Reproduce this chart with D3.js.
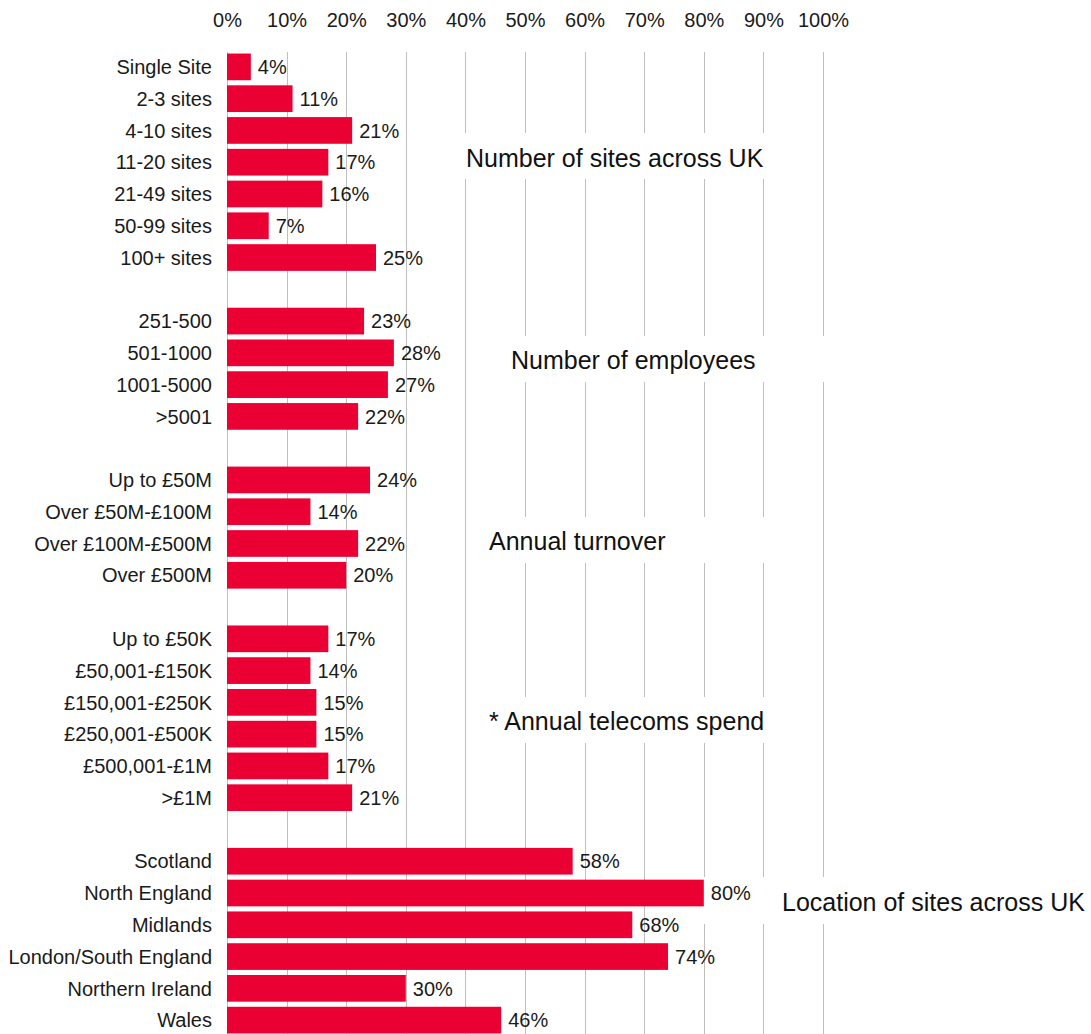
<!DOCTYPE html>
<html>
<head>
<meta charset="utf-8">
<script src="https://cdn.jsdelivr.net/npm/d3@7"></script>
<style>
  html, body { margin: 0; padding: 0; background: #ffffff; }
  svg { display: block; font-family: "Liberation Sans", Arial, sans-serif; }
</style>
</head>
<body>
<svg id="chart" width="1091" height="1034"></svg>
<script>
// Survey breakdown: share of respondents per category, grouped by section
const sitesCategories = ["Single Site", "2-3 sites", "4-10 sites", "11-20 sites", "21-49 sites", "50-99 sites", "100+ sites"];
const sitesValues = [4, 11, 21, 17, 16, 7, 25];

const employeeCategories = ["251-500", "501-1000", "1001-5000", ">5001"];
const employeeValues = [23, 28, 27, 22];

const turnoverCategories = ["Up to £50M", "Over £50M-£100M", "Over £100M-£500M", "Over £500M"];
const turnoverValues = [24, 14, 22, 20];

const telecomsCategories = ["Up to £50K", "£50,001-£150K", "£150,001-£250K", "£250,001-£500K", "£500,001-£1M", ">£1M"];
const telecomsValues = [17, 14, 15, 15, 17, 21];

const locationCategories = ["Scotland", "North England", "Midlands", "London/South England", "Northern Ireland", "Wales"];
const locationValues = [58, 80, 68, 74, 30, 46];

const sectionTitles = ["Number of sites across UK", "Number of employees", "Annual turnover", "* Annual telecoms spend", "Location of sites across UK"];
const tickValues = [0, 10, 20, 30, 40, 50, 60, 70, 80, 90, 100];

// ---- layout ----
const W = 1091, H = 1034;
const x0 = 227, x1 = 823;
const yTop = 51, yBottom = 1036;
const gridTop = 52;
const barColor = "#EB0033";
const gridColor = "#BFBFBF";
const smallFont = 20;
const titleFont = 25;

// Title placement and the white box that sits behind each title
const titleLayout = [
  { x: 466, y: 158, box: [458, 133, 795, 179] },
  { x: 511, y: 360, box: [478, 336, 840, 382] },
  { x: 489, y: 541, box: [478, 517, 795, 563] },
  { x: 489, y: 721, box: [478, 697, 795, 743] },
  { x: 782, y: 902, box: [698, 877, 1091, 924] }
];

// Build the row list: groups separated by one blank row
const groups = [
  [sitesCategories, sitesValues],
  [employeeCategories, employeeValues],
  [turnoverCategories, turnoverValues],
  [telecomsCategories, telecomsValues],
  [locationCategories, locationValues]
];
const rows = [];
groups.forEach(([cats, vals], gi) => {
  if (gi > 0) rows.push({ key: "gap" + gi, label: "", value: null });
  cats.forEach((c, i) => rows.push({ key: "g" + gi + "-" + i, label: c, value: vals[i] }));
});

const svg = d3.select("#chart");

const x = d3.scaleLinear().domain([0, 100]).range([x0, x1]);
const y = d3.scaleBand()
  .domain(rows.map(r => r.key))
  .range([yTop, yBottom])
  .paddingInner(0.16)
  .paddingOuter(0.08);

// Vertical gridlines (including the 0% baseline)
svg.append("g")
  .selectAll("line")
  .data(tickValues)
  .join("line")
  .attr("x1", d => Math.round(x(d)) + 0.5)
  .attr("x2", d => Math.round(x(d)) + 0.5)
  .attr("y1", gridTop)
  .attr("y2", H)
  .attr("stroke", gridColor)
  .attr("stroke-width", 1);

// Top axis labels
const axisTop = d3.axisTop(x)
  .tickValues(tickValues)
  .tickFormat(d => d + "%")
  .tickSize(0)
  .tickPadding(0);
const axisG = svg.append("g")
  .attr("transform", "translate(0,27)")
  .call(axisTop);
axisG.select(".domain").remove();
axisG.selectAll("text")
  .attr("font-family", "Liberation Sans, Arial, sans-serif")
  .attr("font-size", smallFont)
  .attr("fill", "#1a1a1a")
  .attr("dy", 0);

// White boxes behind the section titles (they interrupt the gridlines)
svg.append("g")
  .selectAll("rect")
  .data(titleLayout)
  .join("rect")
  .attr("x", d => d.box[0])
  .attr("y", d => d.box[1])
  .attr("width", d => d.box[2] - d.box[0])
  .attr("height", d => d.box[3] - d.box[1])
  .attr("fill", "#ffffff");

const dataRows = rows.filter(r => r.value !== null);

// Bars
svg.append("g")
  .selectAll("rect")
  .data(dataRows)
  .join("rect")
  .attr("x", x(0))
  .attr("y", d => y(d.key))
  .attr("width", d => x(d.value) - x(0))
  .attr("height", y.bandwidth())
  .attr("fill", barColor);

// Category labels
svg.append("g")
  .selectAll("text")
  .data(dataRows)
  .join("text")
  .attr("x", x(0) - 15)
  .attr("y", d => y(d.key) + y.bandwidth() / 2)
  .attr("dy", "0.36em")
  .attr("text-anchor", "end")
  .attr("font-size", smallFont)
  .attr("fill", "#1a1a1a")
  .text(d => d.label);

// Value labels
svg.append("g")
  .selectAll("text")
  .data(dataRows)
  .join("text")
  .attr("x", d => x(d.value) + 7)
  .attr("y", d => y(d.key) + y.bandwidth() / 2)
  .attr("dy", "0.36em")
  .attr("font-size", smallFont)
  .attr("fill", "#1a1a1a")
  .text(d => d.value + "%");

// Section titles
svg.append("g")
  .selectAll("text")
  .data(titleLayout)
  .join("text")
  .attr("x", d => d.x)
  .attr("y", d => d.y)
  .attr("dy", "0.36em")
  .attr("font-size", titleFont)
  .attr("fill", "#111111")
  .text((d, i) => sectionTitles[i]);
</script>
</body>
</html>
